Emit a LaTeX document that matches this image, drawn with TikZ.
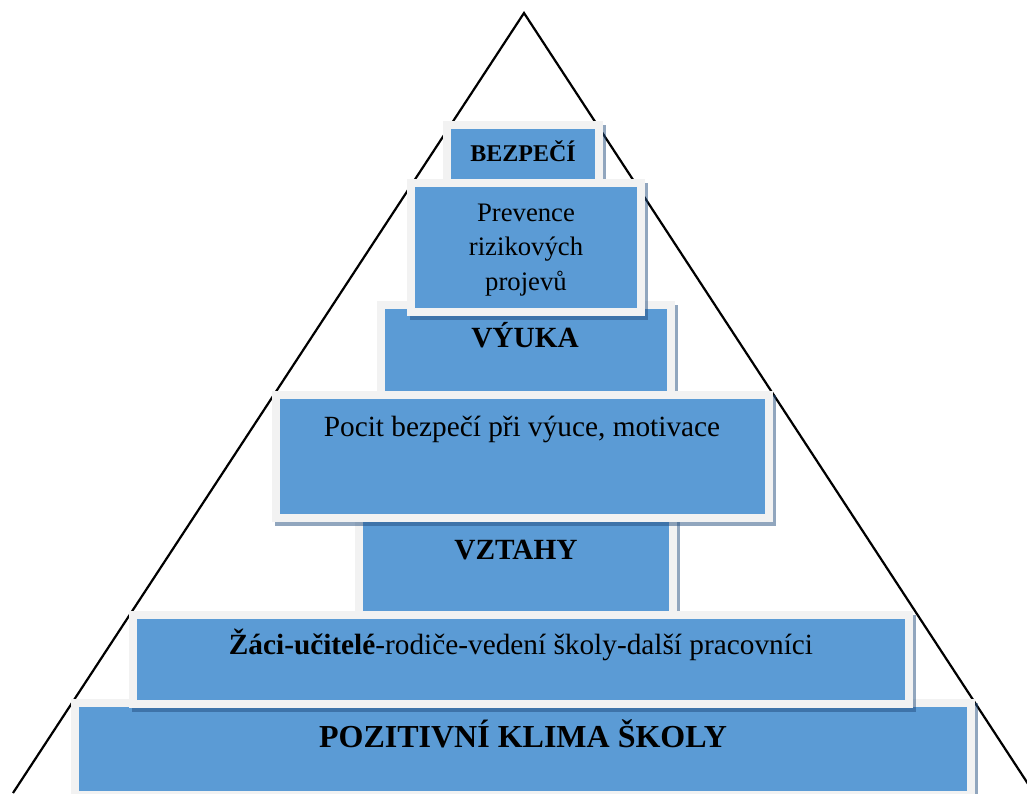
\documentclass[tikz,border=0pt]{standalone}
\usepackage{fontspec}
\setmainfont{Liberation Serif}
\definecolor{tierblue}{HTML}{5B9BD5}
\definecolor{tiergray}{HTML}{F2F2F2}
\definecolor{tiershade}{RGB}{35,77,126}
\tikzset{
  tier/.style={rectangle, fill=tierblue, draw=tiergray, line width=8pt,
    inner sep=0pt, outer sep=0pt},
  tiershadow/.style={fill=tiershade, opacity=0.5},
  caption/.style={anchor=base, inner sep=0pt, text=black, align=center},
  pyramid/.style={draw=black, line width=2.2pt, line join=miter}
}
% \tierbox{name}{x1}{y1}{x2}{y2}: a framed tier with its drop shadow (outer edges)
\newcommand\tierbox[5]{%
  \fill[tiershadow] (#2+3,#3+4) rectangle (#4+3,#5+4);
  \node[tier, minimum width={(#4-#2-8)*1pt}, minimum height={(#5-#3-8)*1pt}]
    (#1) at ({(#2+#4)/2},{(#3+#5)/2}) {};%
}
\begin{document}
\begin{tikzpicture}[x=1pt,y=-1pt]
\useasboundingbox (0,0) rectangle (1027,793);
\clip (0,0) rectangle (1027,793);

% outline of the pyramid
\coordinate (apex) at (524,13);
\coordinate (baseL) at (13,793);
\coordinate (baseR) at (1034,793);
\draw[pyramid] (baseL) -- (apex) -- (baseR);

% tiers, back to front
\tierbox{bez}{443}{121}{603}{190}
\tierbox{vyuka}{377}{301}{675}{400}
\tierbox{prev}{407}{179}{645}{316}
\tierbox{vztahy}{355}{510}{677}{620}
\tierbox{pocit}{272}{391}{773}{522}
\tierbox{poz}{71}{699}{975}{799}
\tierbox{zaci}{129}{611}{913}{708}

% captions (a multi-line caption is placed by its last baseline)
\node[caption, font=\fontsize{24}{28}\selectfont\bfseries] (tbez) at (523,161) {BEZPEČÍ};
\node[caption, font=\fontsize{26.7}{34.5}\selectfont] (tprev) at (526,290)
  {Prevence\\rizikových\\projevů};
\node[caption, font=\fontsize{29.3}{34}\selectfont\bfseries] (tvyuka) at (525,347) {VÝUKA};
\node[caption, font=\fontsize{29.3}{34}\selectfont] (tpocit) at (522,436)
  {Pocit bezpečí při výuce, motivace};
\node[caption, font=\fontsize{29.3}{34}\selectfont\bfseries] (tvztahy) at (516,559) {VZTAHY};
\node[caption, font=\fontsize{29.3}{34}\selectfont] (tzaci) at (521,654)
  {\textbf{Žáci-učitelé}-rodiče-vedení školy-další pracovníci};
\node[caption, font=\fontsize{32}{36}\selectfont\bfseries] (tpoz) at (523,747)
  {POZITIVNÍ KLIMA ŠKOLY};
\end{tikzpicture}
\end{document}
